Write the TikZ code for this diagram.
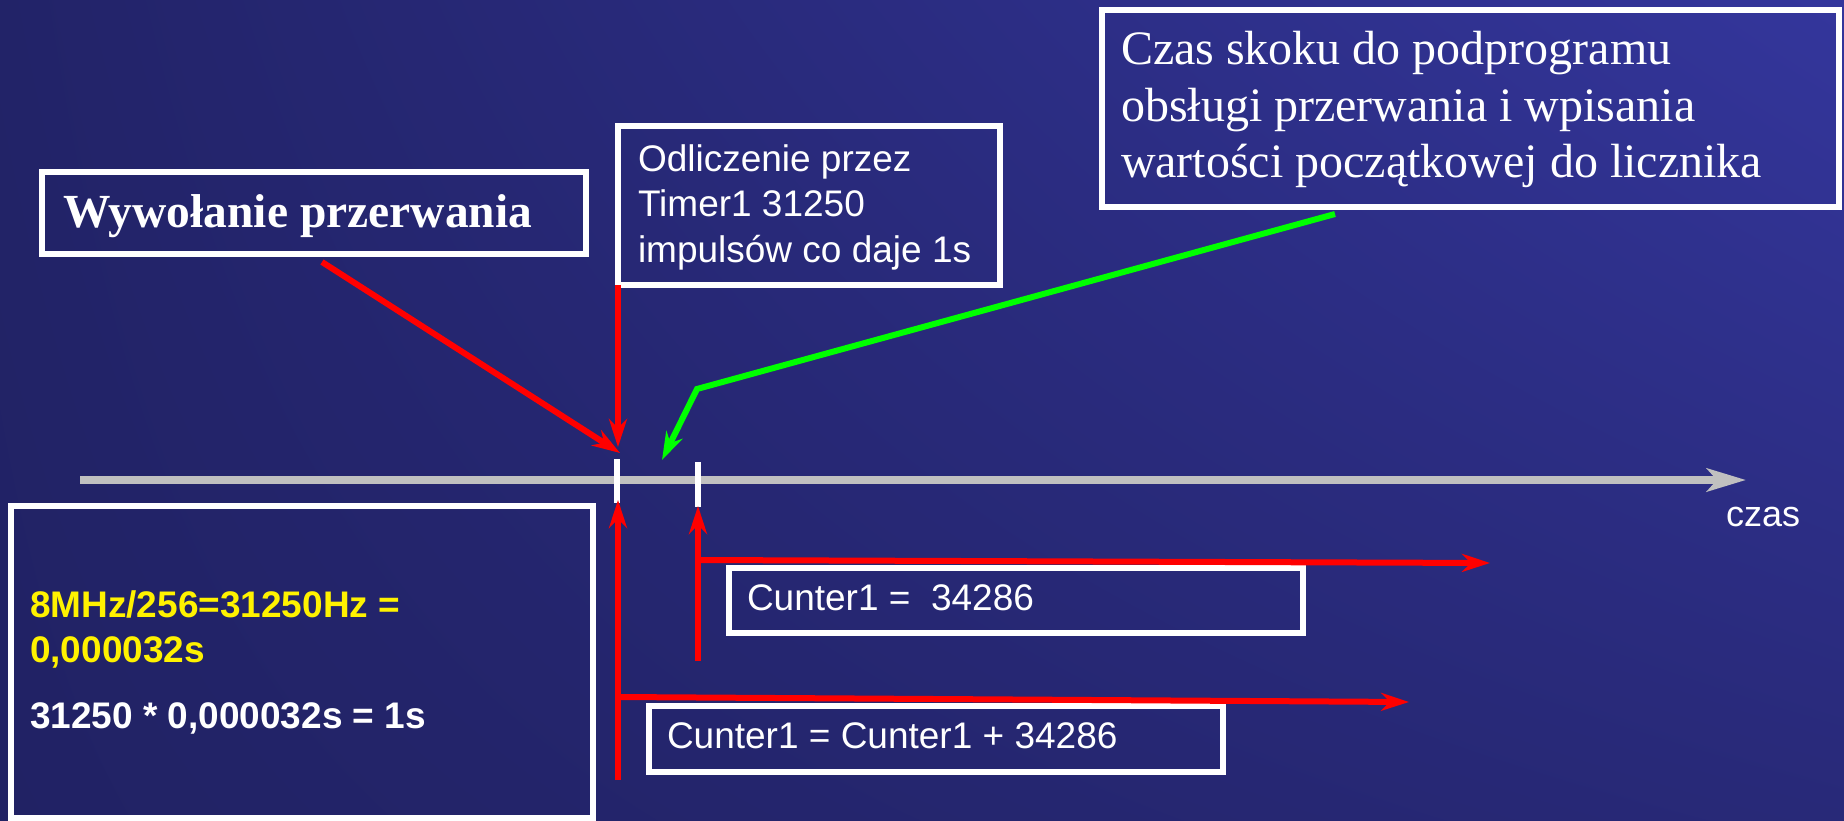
\documentclass[tikz,border=0pt]{standalone}
\usepackage{fontspec}
\setmainfont{Liberation Serif}
\newfontfamily\arialfont{Liberation Sans}
\usetikzlibrary{arrows.meta,calc,shadings}

\definecolor{bgUL}{RGB}{34,35,104}
\definecolor{bgUR}{RGB}{52,54,156}
\definecolor{bgLL}{RGB}{33,34,100}
\definecolor{bgLR}{RGB}{40,41,120}
\definecolor{axisgray}{RGB}{192,192,192}
\definecolor{lime}{RGB}{0,255,0}

\begin{document}
\begin{tikzpicture}[x=1pt,y=-1pt,
  box/.style={draw=white, line width=6pt, inner sep=0pt, outer sep=0pt},
  txt/.style={anchor=base west, inner sep=0pt, outer sep=0pt, text=white},
  sanstxt/.style={txt, font=\arialfont\fontsize{37}{44}\selectfont},
  sansbold/.style={txt, font=\arialfont\bfseries\fontsize{37}{44}\selectfont},
  seriftxt/.style={txt, font=\fontsize{48}{57}\selectfont},
  redarrow/.style={draw=red, line width=6pt, -{Stealth[length=28pt,width=18pt,inset=9pt]}},
  greenarrow/.style={draw=lime, line width=6pt, -{Stealth[length=28pt,width=18pt,inset=9pt]}},
  tick/.style={draw=white, line width=6pt},
  axis/.style={draw=axisgray, line width=8pt, -{Stealth[length=39pt,width=23pt,inset=10pt]}}
]
\useasboundingbox (0,0) rectangle (1844,821);
% background
\shade[upper left=bgUL, upper right=bgUR, lower left=bgLL, lower right=bgLR] (0,0) rectangle (1844,821);

% time axis
\coordinate (axstart) at (80,480);
\coordinate (axend) at (1746,480);
\draw[axis] (axstart) -- (axend);
\node[sanstxt, font=\arialfont\fontsize{36}{43}\selectfont] (czas) at (1726,526) {czas};

% tick marks on the axis
\coordinate (t1a) at (617,459);
\coordinate (t1b) at (617,503);
\coordinate (t2a) at (698,462);
\coordinate (t2b) at (698,507);
\draw[tick] (t1a) -- (t1b);
\draw[tick] (t2a) -- (t2b);

% boxes
\node[box, minimum width=544pt, minimum height=82pt] (wyw) at (314,213) {};
\node[box, minimum width=382pt, minimum height=159pt] (odl) at (809,205.5) {};
\node[box, minimum width=737pt, minimum height=197pt] (skok) at (1470.5,108.5) {};
\node[box, minimum width=582pt, minimum height=312pt] (calc) at (302,662) {};
\node[box, minimum width=574pt, minimum height=65pt] (cA) at (1016,600.5) {};
\node[box, minimum width=574pt, minimum height=66pt] (cB) at (936,739) {};

% texts
\node[txt, font=\bfseries\fontsize{47.5}{57}\selectfont] (wywt) at (63,228) {Wywołanie przerwania};

\node[sanstxt] (odl1) at (638,172) {Odliczenie przez};
\node[sanstxt] (odl2) at (638,217) {Timer1 31250};
\node[sanstxt] (odl3) at (638,262) {impulsów co daje 1s};

\node[seriftxt] (skok1) at (1121,65) {Czas skoku do podprogramu};
\node[seriftxt] (skok2) at (1121,122) {obsługi przerwania i wpisania};
\node[seriftxt] (skok3) at (1121,178) {wartości początkowej do licznika};

\node[sansbold, text=yellow] (calc1) at (30,617) {8MHz/256=31250Hz =};
\node[sansbold, text=yellow] (calc2) at (30,662) {0,000032s};
\node[sansbold] (calc3) at (30,728) {31250 * 0,000032s = 1s};

\node[sanstxt] (cAt) at (747,610) {Cunter1 =\ \ 34286};
\node[sanstxt] (cBt) at (667,748) {Cunter1 = Cunter1 + 34286};

% red arrows
\coordinate (dstart) at (322,262);
\coordinate (dtip) at (620,453);
\draw[redarrow] (dstart) -- (dtip);
\coordinate (vtip) at (618,447);
\draw[redarrow] (odl.south west) -- (vtip);

\coordinate (u1bot) at (618,780);
\coordinate (u1tip) at (618,500);
\coordinate (u1fork) at (618,697);
\coordinate (u1end) at (1409,702);
\draw[redarrow] (u1bot) -- (u1tip);
\draw[redarrow] (u1fork) -- (u1end);

\coordinate (u2bot) at (698,661);
\coordinate (u2tip) at (698,506);
\coordinate (u2fork) at (698,560);
\coordinate (u2end) at (1490,563);
\draw[redarrow] (u2bot) -- (u2tip);
\draw[redarrow] (u2fork) -- (u2end);

% green arrow
\coordinate (gstart) at (1335,214);
\coordinate (gbend) at (697,389);
\coordinate (gtip) at (662,460);
\draw[greenarrow] (gstart) -- (gbend) -- (gtip);
\end{tikzpicture}
\end{document}
